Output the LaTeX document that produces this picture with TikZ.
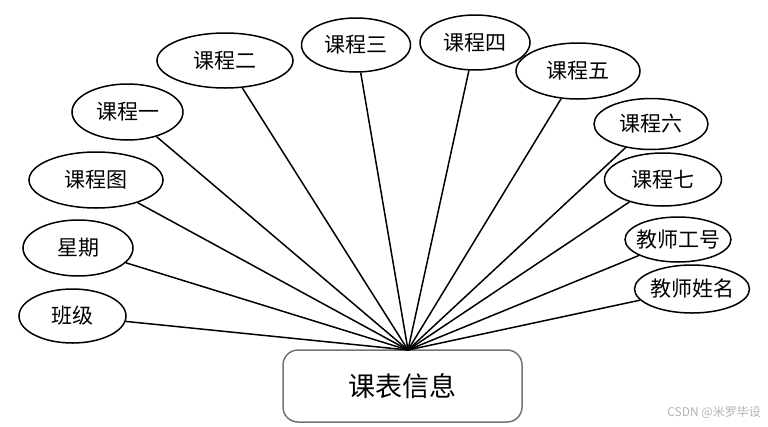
\documentclass[tikz,border=0pt]{standalone}
\usepackage{fontspec}
\newfontfamily\cjk{Noto Sans CJK SC}
\usetikzlibrary{shapes.geometric}
\begin{document}
\begin{tikzpicture}[x=1pt,y=-1pt,
  attr/.style={draw=black, line width=1.5pt, ellipse, inner sep=0pt, font=\cjk\fontsize{21}{23}\selectfont},
  wide/.style={inner xsep=-10pt},
  entity/.style={draw=black!55, line width=1.5pt, rounded corners=15pt, inner sep=0pt, minimum width=239pt, minimum height=72pt, font=\cjk\fontsize{27}{30}\selectfont},
  link/.style={line width=1.5pt, black}]
\useasboundingbox (0,0) rectangle (768,426);
\node[entity] (main) at (402.5,386) {课表信息};
\coordinate (hub) at (408,350);
\node[attr, minimum width=107pt, minimum height=54pt] (banji) at (72.5,316) {班级};
\node[attr, minimum width=110pt, minimum height=56pt] (xingqi) at (78,248) {星期};
\node[attr, minimum width=134pt, minimum height=56pt] (kct) at (96,180) {课程图};
\node[attr, minimum width=111pt, minimum height=56pt] (k1) at (127.5,112) {课程一};
\node[attr, minimum width=136pt, minimum height=55pt] (k2) at (225,60.5) {课程二};
\node[attr, minimum width=109pt, minimum height=54pt] (k3) at (356,45) {课程三};
\node[attr, minimum width=110pt, minimum height=55pt] (k4) at (475,42.5) {课程四};
\node[attr, minimum width=124pt, minimum height=56pt] (k5) at (578,71) {课程五};
\node[attr, minimum width=114pt, minimum height=51pt] (k6) at (651,124) {课程六};
\node[attr, minimum width=117pt, minimum height=53pt] (k7) at (663,179.5) {课程七};
\node[attr, wide, minimum width=106pt, minimum height=45pt] (gh) at (678,239.5) {教师工号};
\node[attr, wide, minimum width=115pt, minimum height=48pt] (xm) at (692,289) {教师姓名};
\foreach \n in {banji,xingqi,kct,k1,k2,k3,k4,k5,k6,k7,gh,xm}
  \draw[link] (\n) -- (hub);
\node[text=black!30, font=\cjk\fontsize{12}{14}\selectfont, anchor=east, inner sep=0pt] (wm) at (761,412) {CSDN @米罗毕设};
\end{tikzpicture}
\end{document}
